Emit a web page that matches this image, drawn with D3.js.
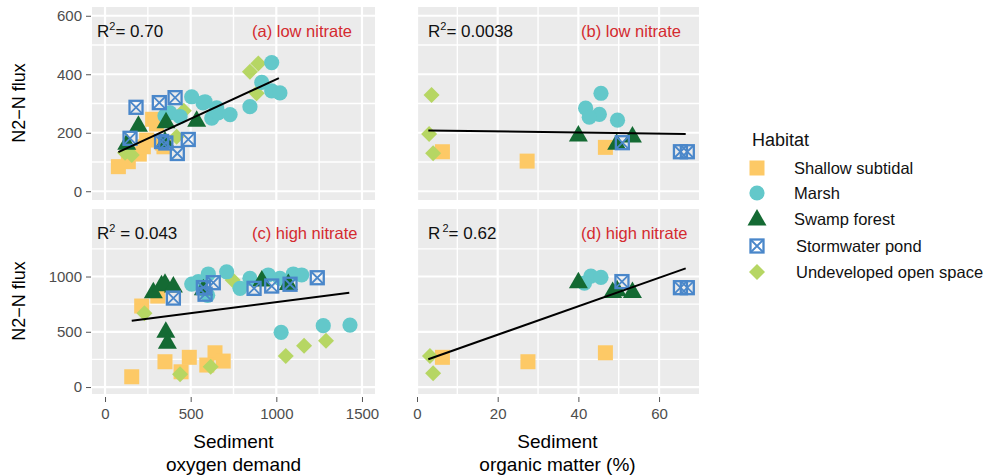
<!DOCTYPE html>
<html>
<head>
<meta charset="utf-8">
<script src="https://cdn.jsdelivr.net/npm/d3@7"></script>
<style>
  body { margin: 0; background: #fff; }
  text { font-family: "Liberation Sans", Arial, sans-serif; }
</style>
</head>
<body>
<svg id="drawing_region" width="998" height="476"></svg>
<script>
// habitat index: 0 subtidal, 1 marsh, 2 swamp forest, 3 stormwater pond, 4 open space
const habitats = ['Shallow subtidal', 'Marsh', 'Swamp forest', 'Stormwater pond', 'Undeveloped open space'];
const habitatColors = ['#fdc966', '#63c8ca', '#146a33', '#4a87ca', '#b6d663'];

// [habitat, x, y]  (a) oxygen demand, low nitrate
const oxyLow = [
  [0, 78, 84], [0, 136, 101], [0, 200, 127], [0, 224, 152], [0, 243, 175], [0, 278, 246], [0, 300, 230], [0, 335, 165], [0, 344, 152],
  [4, 117, 132], [4, 156, 124], [4, 418, 186], [4, 460, 275], [4, 846, 409], [4, 895, 437], [4, 885, 335],
  [1, 350, 258], [1, 379, 268], [1, 438, 255], [1, 506, 323], [1, 572, 302], [1, 584, 306], [1, 623, 250], [1, 652, 285],
  [1, 660, 268], [1, 730, 262], [1, 846, 289], [1, 915, 372], [1, 973, 440], [1, 973, 343], [1, 1021, 336],
  [2, 127, 164], [2, 195, 226], [2, 350, 172], [2, 356, 238], [2, 535, 243],
  [3, 181, 287], [3, 317, 303], [3, 409, 320], [3, 146, 181], [3, 330, 170], [3, 355, 165], [3, 486, 177], [3, 422, 129]
];
// (b) organic matter, low nitrate
const omLow = [
  [0, 6.3, 135], [0, 27.3, 103], [0, 46.7, 150],
  [4, 3.6, 329], [4, 3.0, 196], [4, 4.0, 130],
  [1, 45.6, 335], [1, 41.8, 284], [1, 45.2, 263], [1, 42.7, 253], [1, 49.7, 243],
  [2, 40.0, 192], [2, 53.4, 189], [2, 49.5, 164],
  [3, 50.9, 166], [3, 65.3, 135], [3, 67.0, 135]
];
// (c) oxygen demand, high nitrate
const oxyHigh = [
  [0, 156, 93], [0, 350, 229], [0, 444, 138], [0, 492, 269], [0, 642, 310], [0, 594, 199], [0, 690, 235], [0, 214, 733], [0, 308, 823],
  [4, 230, 667], [4, 617, 184], [4, 438, 115], [4, 1055, 280], [4, 1162, 374], [4, 1290, 419], [4, 745, 968],
  [1, 506, 932], [1, 545, 955], [1, 599, 830], [1, 603, 1023], [1, 710, 1043], [1, 788, 893], [1, 846, 984], [1, 953, 1014],
  [1, 1021, 984], [1, 1099, 1023], [1, 1148, 1014], [1, 1028, 495], [1, 1274, 555], [1, 1430, 561],
  [2, 282, 862], [2, 330, 925], [2, 350, 940], [2, 399, 914], [2, 355, 505], [2, 364, 405], [2, 574, 890], [2, 915, 968], [2, 1070, 938],
  [3, 399, 805], [3, 574, 900], [3, 584, 840], [3, 632, 944], [3, 870, 893], [3, 973, 914], [3, 1080, 930], [3, 1239, 989]
];
// (d) organic matter, high nitrate
const omHigh = [
  [0, 6.3, 269], [0, 27.5, 229], [0, 46.7, 310],
  [4, 3.2, 280], [4, 4.0, 124],
  [1, 43.1, 1004], [1, 45.6, 993], [1, 41.5, 940],
  [2, 40.0, 953], [2, 48.5, 864], [2, 49.6, 880], [2, 53.4, 864],
  [3, 50.8, 954], [3, 65.3, 899], [3, 67.0, 899]
];

// fitted lines [x0, y0, x1, y1]
const fitLines = [[78, 134, 1015, 387], [2.8, 208, 66.6, 196], [156, 600, 1426, 853], [2.8, 251, 66.6, 1074]];
const r2Values = ['= 0.70', '= 0.0038', ' = 0.043', '= 0.62'];
const panelTitles = ['(a) low nitrate', '(b) low nitrate', '(c) high nitrate', '(d) high nitrate'];

const xTicksOxy = [0, 500, 1000, 1500];
const xTicksOM = [0, 20, 40, 60];
const yTicksLow = [0, 200, 400, 600];
const yTicksHigh = [0, 500, 1000];

const svg = d3.select('#drawing_region');

const xOxy = d3.scaleLinear().domain([-76, 1576]).range([92, 375]);
const xOM = d3.scaleLinear().domain([-0.25, 69.9]).range([416, 699]);
const yLow = d3.scaleLinear().domain([-30, 630]).range([200, 7]);
const yHigh = d3.scaleLinear().domain([-63, 1611]).range([394, 209]);

function minors(ticks) {
  const step = ticks[1] - ticks[0];
  const out = ticks.map(t => t + step / 2);
  out.unshift(ticks[0] - step / 2);
  return out;
}

function drawSymbol(g, h, x, y) {
  const c = habitatColors[h];
  if (h === 0) {
    g.append('rect').attr('x', x - 7.5).attr('y', y - 7.5).attr('width', 15).attr('height', 15).attr('fill', c);
  } else if (h === 1) {
    g.append('circle').attr('cx', x).attr('cy', y).attr('r', 7.6).attr('fill', c);
  } else if (h === 2) {
    g.append('path').attr('d', `M${x},${y - 10}L${x + 9.5},${y + 6.5}L${x - 9.5},${y + 6.5}Z`).attr('fill', c);
  } else if (h === 3) {
    g.append('rect').attr('x', x - 6.5).attr('y', y - 6.5).attr('width', 13).attr('height', 13)
      .attr('fill', 'none').attr('stroke', c).attr('stroke-width', 2.3);
    g.append('path').attr('d', `M${x - 6},${y - 6}L${x + 6},${y + 6}M${x + 6},${y - 6}L${x - 6},${y + 6}`)
      .attr('stroke', c).attr('stroke-width', 1.8);
  } else {
    g.append('path').attr('d', `M${x},${y - 8}L${x + 8},${y}L${x},${y + 8}L${x - 8},${y}Z`).attr('fill', c);
  }
}

const drawOrder = [0, 4, 1, 2, 3];

function drawPanel(i, data, xs, ys, xt, yt) {
  const g = svg.append('g');
  const [x0, x1] = xs.range();
  const [y1, y0] = ys.range();
  g.append('rect').attr('x', x0).attr('y', y0).attr('width', x1 - x0).attr('height', y1 - y0).attr('fill', '#ebebeb');

  const xMin = minors(xt).filter(v => xs(v) > x0 && xs(v) < x1);
  const yMin = minors(yt).filter(v => ys(v) > y0 && ys(v) < y1);
  g.selectAll('.vmin').data(xMin).enter().append('line')
    .attr('x1', d => xs(d)).attr('x2', d => xs(d)).attr('y1', y0).attr('y2', y1)
    .attr('stroke', '#fff').attr('stroke-width', 1.4);
  g.selectAll('.hmin').data(yMin).enter().append('line')
    .attr('y1', d => ys(d)).attr('y2', d => ys(d)).attr('x1', x0).attr('x2', x1)
    .attr('stroke', '#fff').attr('stroke-width', 1.4);
  g.selectAll('.vmaj').data(xt).enter().append('line')
    .attr('x1', d => xs(d)).attr('x2', d => xs(d)).attr('y1', y0).attr('y2', y1)
    .attr('stroke', '#fff').attr('stroke-width', 2.2);
  g.selectAll('.hmaj').data(yt).enter().append('line')
    .attr('y1', d => ys(d)).attr('y2', d => ys(d)).attr('x1', x0).attr('x2', x1)
    .attr('stroke', '#fff').attr('stroke-width', 2.2);

  drawOrder.forEach(h => {
    data.filter(d => d[0] === h).forEach(d => drawSymbol(g, h, xs(d[1]), ys(d[2])));
  });

  const f = fitLines[i];
  g.append('line')
    .attr('x1', xs(f[0])).attr('y1', ys(f[1])).attr('x2', xs(f[2])).attr('y2', ys(f[3]))
    .attr('stroke', '#000').attr('stroke-width', 2);

  // R^2 and panel label
  const base = y0 + 30;
  const lx = x0 + (i % 2 === 0 ? 5 : 12);
  const t = g.append('text').attr('x', lx).attr('y', base).attr('font-size', 17).attr('fill', '#111');
  t.append('tspan').text('R');
  t.append('tspan').attr('dy', -7).attr('font-size', 11).text(i === 3 ? '\u20092' : '2');
  t.append('tspan').attr('dy', 7).text(r2Values[i]);

  g.append('text').attr('x', i % 2 === 0 ? x0 + 160 : x0 + 165).attr('y', base)
    .attr('font-size', 16.5).attr('fill', '#d42a2f').text(panelTitles[i]);
}

drawPanel(0, oxyLow, xOxy, yLow, xTicksOxy, yTicksLow);
drawPanel(1, omLow, xOM, yLow, xTicksOM, yTicksLow);
drawPanel(2, oxyHigh, xOxy, yHigh, xTicksOxy, yTicksHigh);
drawPanel(3, omHigh, xOM, yHigh, xTicksOM, yTicksHigh);

// axes
const fmt = d3.format('d');
function styleAxis(sel) {
  sel.select('.domain').remove();
  sel.selectAll('.tick line').attr('stroke', '#555');
  sel.selectAll('.tick text').attr('fill', '#4d4d4d').attr('font-size', 15)
    .attr('font-family', '"Liberation Sans", Arial, sans-serif');
}
svg.append('g').attr('transform', 'translate(91,0)')
  .call(d3.axisLeft(yLow).tickValues(yTicksLow).tickFormat(fmt).tickSize(5).tickPadding(4)).call(styleAxis);
svg.append('g').attr('transform', 'translate(91,0)')
  .call(d3.axisLeft(yHigh).tickValues(yTicksHigh).tickFormat(fmt).tickSize(5).tickPadding(4)).call(styleAxis);
svg.append('g').attr('transform', 'translate(0,397)')
  .call(d3.axisBottom(xOxy).tickValues(xTicksOxy).tickFormat(fmt).tickSize(5).tickPadding(6)).call(styleAxis);
svg.append('g').attr('transform', 'translate(0,397)')
  .call(d3.axisBottom(xOM).tickValues(xTicksOM).tickFormat(fmt).tickSize(5).tickPadding(6)).call(styleAxis);

// axis titles
[[103, 'N2\u2212N flux'], [301, 'N2\u2212N flux']].forEach(([cy, s]) => {
  svg.append('text').attr('transform', `translate(25,${cy}) rotate(-90)`)
    .attr('text-anchor', 'middle').attr('font-size', 18).attr('fill', '#000').text(s);
});
[[233.5, 'Sediment', 'oxygen demand'], [557.5, 'Sediment', 'organic matter (%)']].forEach(([cx, a, b]) => {
  svg.append('text').attr('x', cx).attr('y', 448).attr('text-anchor', 'middle').attr('font-size', 19).text(a);
  svg.append('text').attr('x', cx).attr('y', 471).attr('text-anchor', 'middle').attr('font-size', 19).text(b);
});

// legend
const legend = svg.append('g');
legend.append('text').attr('x', 752).attr('y', 146).attr('font-size', 18).attr('fill', '#111').text('Habitat');
const legendY = [168, 193, 219, 246, 272];
habitats.forEach((name, i) => {
  drawSymbol(legend, i, 757, legendY[i]);
  legend.append('text').attr('x', i < 3 ? 794 : 796).attr('y', legendY[i] + 6)
    .attr('font-size', 16.5).attr('fill', '#111').text(name);
});
</script>
</body>
</html>
